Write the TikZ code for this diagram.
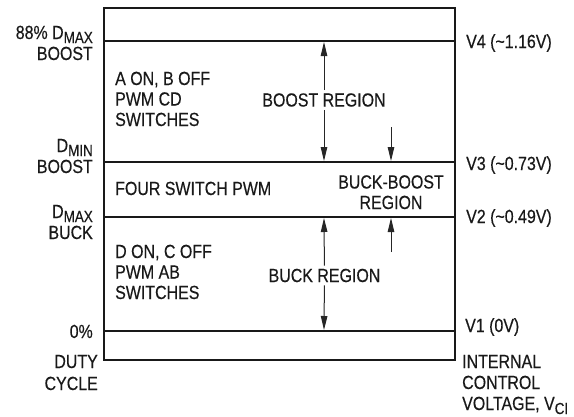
\documentclass[tikz,border=0pt]{standalone}
\usepackage{fontspec}
\setmainfont{Liberation Sans}[FakeStretch=0.84,FakeBold=0.4]
\usetikzlibrary{arrows.meta}
\def\lowsub#1{\raisebox{-4pt}{\fontsize{16}{16}\selectfont #1}}
\tikzset{
	lvl/.style={line width=2.2pt, draw=black!90},
	lbl/.style={inner sep=0pt, text=black!90, font=\fontsize{19}{20.5}\selectfont},
	rng/.style={line width=1pt, draw=black!85, -{Triangle[length=14pt,width=6.5pt]}},
}

\begin{document}
\begin{tikzpicture}[x=1pt, y=-1pt]
			%%%%% START %%%%%
			\useasboundingbox (0,0) rectangle (574,416);
			
			\draw[lvl] (104,8) rectangle (455,360);
			\draw[lvl] (104,41) -- (455,41);
			\draw[lvl] (104,162) -- (455,162);
			\draw[lvl] (104,217) -- (455,217);
			\draw[lvl] (104,331) -- (455,331);
			
			\coordinate (v4top) at (324,42);
			\coordinate (v3mid) at (324,161);
			\coordinate (v3bb) at (391,161);
			\coordinate (bbtail) at (391,127);
			\coordinate (v2mid) at (324,218);
			\coordinate (v2bb) at (391,218);
			\coordinate (bbfoot) at (391,252);
			\coordinate (v1mid) at (324,330);
			
			% duty cycle side
			\node[lbl, anchor=base east] (dmax88) at (93,39) {88\% D\lowsub{MAX}};
			\node[lbl, anchor=base east] (boosthi) at (93,60) {BOOST};
			\node[lbl, anchor=base east] (dmin) at (93,152) {D\lowsub{MIN}};
			\node[lbl, anchor=base east] (boostlo) at (93,173) {BOOST};
			\node[lbl, anchor=base east] (dmaxbuck) at (93,218) {D\lowsub{MAX}};
			\node[lbl, anchor=base east] (buck) at (93,239) {BUCK};
			\node[lbl, anchor=base east] (zero) at (93,338) {0\%};
			\node[lbl, anchor=base east, align=right, font=\fontsize{19}{22}\selectfont] (duty) at (98,390) {DUTY\\CYCLE};
			
			% regions
			\node[lbl, anchor=base west, align=left] (boostsw) at (115,126) {A ON, B OFF\\PWM CD\\SWITCHES};
			\node[lbl, anchor=base west] (fourpwm) at (115,195) {FOUR SWITCH PWM};
			\node[lbl, anchor=base west, align=left] (bucksw) at (115,299) {D ON, C OFF\\PWM AB\\SWITCHES};
			\node[lbl, inner sep=3pt] (boostreg) at (324,100) {BOOST REGION};
			\node[lbl, inner sep=3pt] (buckreg) at (324.5,275.5) {BUCK REGION};
			\node[lbl, anchor=base, align=center] (bbreg) at (391,209) {BUCK-BOOST\\REGION};
			
			\draw[rng] (boostreg) -- (v4top);
			\draw[rng] (boostreg) -- (v3mid);
			\draw[rng] (buckreg) -- (v2mid);
			\draw[rng] (buckreg) -- (v1mid);
			\draw[rng] (bbtail) -- (v3bb);
			\draw[rng] (bbfoot) -- (v2bb);
			
			% control voltage side
			\node[lbl, anchor=base west] (v4) at (466,48) {V4 (\textasciitilde1.16V)};
			\node[lbl, anchor=base west] (v3) at (466,170) {V3 (\textasciitilde0.73V)};
			\node[lbl, anchor=base west] (v2) at (466,223) {V2 (\textasciitilde0.49V)};
			\node[lbl, anchor=base west] (v1) at (465,332) {V1 (0V)};
			\node[lbl, anchor=base west, align=left, font=\fontsize{19}{21}\selectfont] (vci) at (462,410) {INTERNAL\\CONTROL\\VOLTAGE, V\lowsub{CI}};
			%%%%% END %%%%%
\end{tikzpicture}
\end{document}
